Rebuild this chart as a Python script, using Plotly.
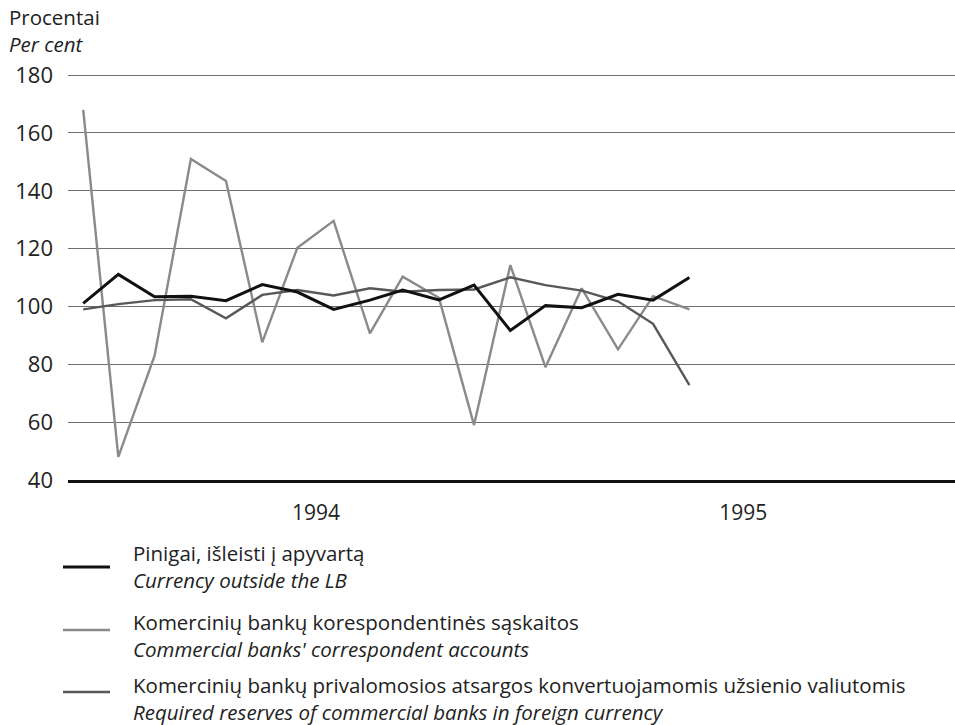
import plotly.graph_objects as go

# Monthly observations, June 1993 - November 1994
months = ["1993-06", "1993-07", "1993-08", "1993-09", "1993-10", "1993-11",
          "1993-12", "1994-01", "1994-02", "1994-03", "1994-04", "1994-05",
          "1994-06", "1994-07", "1994-08", "1994-09", "1994-10", "1994-11"]

currency = [101.1, 111.1, 103.4, 103.5, 102.0, 107.6, 105.0, 99.0, 102.2,
            105.7, 102.3, 107.4, 91.7, 100.3, 99.6, 104.2, 102.2, 110.0]

correspondent = [168.0, 48.0, 83.0, 151.0, 143.4, 87.6, 120.3, 129.6, 90.7,
                 110.3, 103.0, 59.0, 114.3, 79.0, 106.3, 85.2, 103.6, 99.0]

reserves = [99.0, 100.8, 102.2, 102.5, 95.9, 104.0, 105.7, 103.8, 106.3,
            105.1, 105.7, 105.9, 110.1, 107.4, 105.5, 101.8, 94.0, 72.8]

year_ticks = ["1994-01-01", "1995-01-01"]
year_labels = ["1994", "1995"]

legend_lt = ["Pinigai, išleisti į apyvartą",
             "Komercinių bankų korespondentinės sąskaitos",
             "Komercinių bankų privalomosios atsargos konvertuojamomis užsienio valiutomis"]
legend_en = ["Currency outside the LB",
             "Commercial banks' correspondent accounts",
             "Required reserves of commercial banks in foreign currency"]

x = [m + "-16" for m in months]

FONT = "Open Sans"
W, H = 955, 725
L, R, T, B = 68, 0, 74, 245
PW, PH = W - L - R, H - T - B


def px(xpix):
    return (xpix - L) / PW


def py(ypix):
    return (H - B - ypix) / PH


series = [
    (currency, "#111111", 3.0),
    (correspondent, "#8a8a8a", 2.4),
    (reserves, "#585858", 2.4),
]

fig = go.Figure()
for idx in (1, 2, 0):  # black drawn on top
    vals, col, w = series[idx]
    fig.add_trace(go.Scatter(x=x, y=vals, mode="lines", name=legend_en[idx],
                             line=dict(color=col, width=w), showlegend=False,
                             hoverinfo="skip"))

fig.update_layout(
    width=W, height=H,
    margin=dict(l=L, r=R, t=T, b=B),
    paper_bgcolor="white", plot_bgcolor="white",
    font=dict(family=FONT, size=21, color="#222222"),
    xaxis=dict(type="date", range=["1993-06-03", "1995-07-01"],
               tickvals=year_ticks, ticktext=year_labels,
               showgrid=False, zeroline=False, showline=True,
               linecolor="#111111", linewidth=2.5, ticks="",
               ticklabelstandoff=12, tickfont=dict(size=21, color="#222222")),
    yaxis=dict(range=[40, 180.4], tickvals=[40, 60, 80, 100, 120, 140, 160, 180],
               showgrid=True, gridcolor="#6e6e6e", gridwidth=1.3,
               zeroline=False, showline=False, ticks="",
               ticklabelstandoff=14, tickfont=dict(size=22, color="#222222")),
)

# axis title (two lines, top-left)
fig.add_annotation(xref="paper", yref="paper", x=px(7), y=py(30.5),
                   xanchor="left", yanchor="middle", showarrow=False, align="left",
                   text="Procentai<br><i>Per cent</i>", font=dict(size=20.5))

# custom legend
line_y = [567, 630, 692]
text_y = [566, 635, 698]
for i, (vals, col, w) in enumerate(series):
    fig.add_shape(type="line", xref="paper", yref="paper",
                  x0=px(63), x1=px(110), y0=py(line_y[i]), y1=py(line_y[i]),
                  line=dict(color=col, width=w))
    fig.add_annotation(xref="paper", yref="paper", x=px(131), y=py(text_y[i]),
                       xanchor="left", yanchor="middle", showarrow=False,
                       align="left",
                       text=legend_lt[i] + "<br><i>" + legend_en[i] + "</i>",
                       font=dict(size=20.5))

fig.write_html("out.html", config={"displayModeBar": False},
               post_script="document.body.style.margin='0';document.body.style.padding='0';")
